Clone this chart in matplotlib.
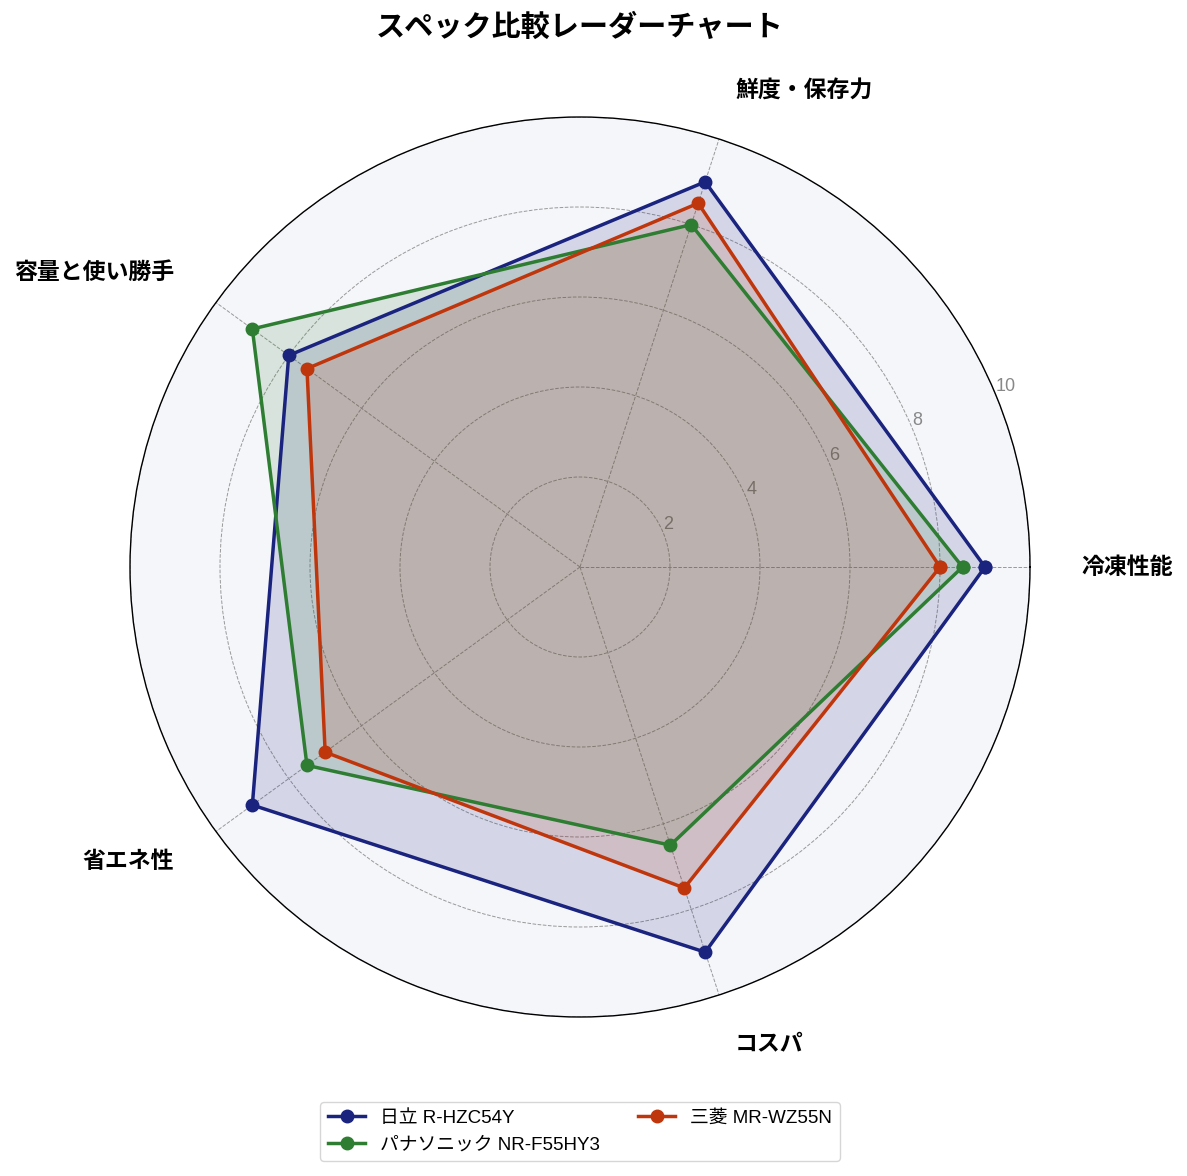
import matplotlib.pyplot as plt
import numpy as np

plt.rcParams['font.family'] = ['Liberation Sans', 'Noto Sans CJK JP', 'DejaVu Sans']

# データ
categories = ['冷凍性能', '鮮度・保存力', '容量と使い勝手', '省エネ性', 'コスパ']
models = ['日立 R-HZC54Y', 'パナソニック NR-F55HY3', '三菱 MR-WZ55N']
scores = {
    '日立 R-HZC54Y': [9.0, 9.0, 8.0, 9.0, 9.0],
    'パナソニック NR-F55HY3': [8.5, 8.0, 9.0, 7.5, 6.5],
    '三菱 MR-WZ55N': [8.0, 8.5, 7.5, 7.0, 7.5],
}
colors = ['#1a237e', '#2e7d32', '#bf360c']
r_ticks = [2, 4, 6, 8, 10]

n = len(categories)
angles = np.linspace(0, 2 * np.pi, n, endpoint=False)
angles_closed = np.concatenate([angles, angles[:1]])

fig = plt.figure(figsize=(11.87, 11.76), dpi=100)
ax = fig.add_axes([130 / 1187, 159 / 1176, 900 / 1187, 900 / 1176], polar=True)
ax.set_facecolor('#f5f6fa')

for name, c in zip(models, colors):
    vals = scores[name]
    vals = vals + vals[:1]
    ax.plot(angles_closed, vals, color=c, linewidth=2.5, marker='o',
            markersize=9, label=name, zorder=3)
    ax.fill(angles_closed, vals, color=c, alpha=0.15, zorder=2)

ax.set_ylim(0, 10)
ax.set_yticks(r_ticks)
ax.set_yticklabels([str(t) for t in r_ticks], color='#888888', fontsize=13)
ax.set_rlabel_position(22.5)
ax.set_xticks(angles)
ax.set_xticklabels([])
ax.grid(True, color='#999999', linestyle='--', linewidth=0.7)
ax.spines['polar'].set_color('black')
ax.spines['polar'].set_linewidth(1.0)

# 軸ラベル
for ang, lab in zip(angles, categories):
    ha = 'left' if np.cos(ang) >= -1e-9 else 'right'
    ax.text(ang, 11.15, lab, ha=ha, va='center', fontsize=16.5,
            fontweight='bold')

fig.text(580 / 1187, 1 - 28 / 1176, 'スペック比較レーダーチャート',
         ha='center', va='center', fontsize=21, fontweight='bold')

ax.legend(loc='upper center', bbox_to_anchor=(0.5, -0.084), ncol=2,
          fontsize=13.5, frameon=True, edgecolor='#cccccc')

fig.savefig('out.png', dpi=100)
